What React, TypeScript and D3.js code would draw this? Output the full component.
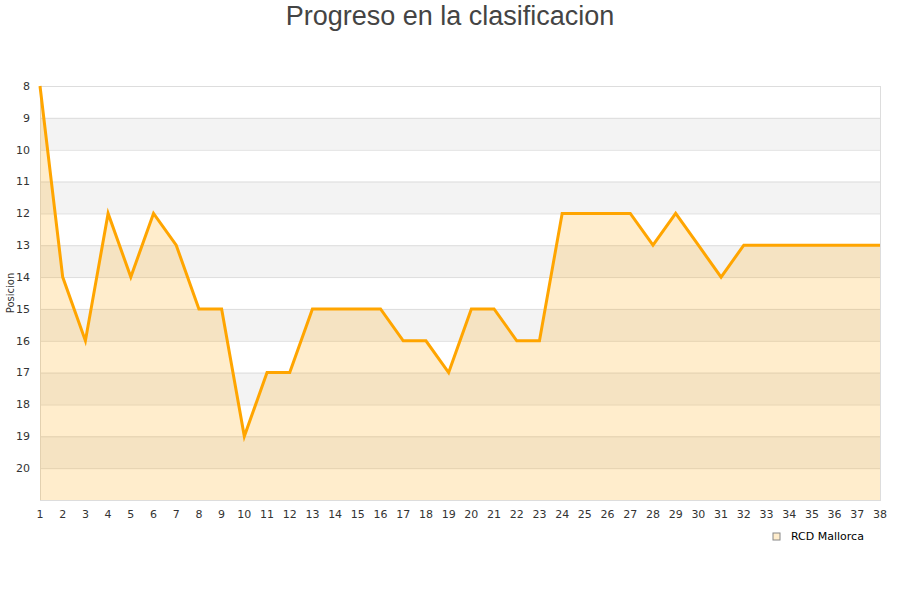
import React, { useEffect, useRef } from "react";
import * as d3 from "d3";

// jornadas and league position of RCD Mallorca
const jornadas = d3.range(1, 39);
const posiciones = [
  8, 14, 16, 12, 14, 12, 13, 15, 15, 19, 17, 17, 15, 15, 15, 15, 16, 16, 17,
  15, 15, 16, 16, 12, 12, 12, 12, 13, 12, 13, 14, 13, 13, 13, 13, 13, 13, 13,
];
const yTicks = d3.range(8, 21);
const seriesName = "RCD Mallorca";

const width = 900;
const height = 600;
const margin = { top: 86, right: 20, bottom: 100, left: 40 };

function Chart() {
  const ref = useRef<SVGSVGElement>(null);

  useEffect(() => {
    const svg = d3.select(ref.current);
    svg.selectAll("*").remove();

    const x = d3
      .scaleLinear()
      .domain([1, 38])
      .range([margin.left, width - margin.right]);
    const y = d3
      .scaleLinear()
      .domain([8, 21])
      .range([margin.top, height - margin.bottom]);

    const font = "DejaVu Sans, sans-serif";

    // alternating bands
    svg
      .append("g")
      .selectAll("rect")
      .data(d3.range(8, 21))
      .enter()
      .append("rect")
      .attr("x", margin.left)
      .attr("width", width - margin.right - margin.left)
      .attr("y", (d) => y(d))
      .attr("height", (d) => y(d + 1) - y(d))
      .attr("fill", (d) => (d % 2 === 0 ? "#ffffff" : "#f3f3f3"));

    // grid lines
    svg
      .append("g")
      .selectAll("line")
      .data(d3.range(8, 22))
      .enter()
      .append("line")
      .attr("x1", margin.left)
      .attr("x2", width - margin.right)
      .attr("y1", (d) => y(d) + 0.5)
      .attr("y2", (d) => y(d) + 0.5)
      .attr("stroke", "#dddddd");

    // frame
    svg
      .append("rect")
      .attr("x", margin.left + 0.5)
      .attr("y", margin.top + 0.5)
      .attr("width", width - margin.right - margin.left)
      .attr("height", height - margin.bottom - margin.top)
      .attr("fill", "none")
      .attr("stroke", "#dddddd");

    const data = jornadas.map((j, i) => ({ j, p: posiciones[i] }));

    const area = d3
      .area<{ j: number; p: number }>()
      .x((d) => x(d.j))
      .y0(y(21))
      .y1((d) => y(d.p));

    const line = d3
      .line<{ j: number; p: number }>()
      .x((d) => x(d.j))
      .y((d) => y(d.p));

    svg
      .append("path")
      .datum(data)
      .attr("d", area)
      .attr("fill", "#ffa500")
      .attr("fill-opacity", 0.2);

    svg
      .append("path")
      .datum(data)
      .attr("d", line)
      .attr("fill", "none")
      .attr("stroke", "#ffa500")
      .attr("stroke-width", 3)
      .attr("stroke-linejoin", "miter");

    // y tick labels
    svg
      .append("g")
      .selectAll("text")
      .data(yTicks)
      .enter()
      .append("text")
      .attr("x", margin.left - 10)
      .attr("y", (d) => y(d))
      .attr("dy", "0.35em")
      .attr("text-anchor", "end")
      .attr("font-family", font)
      .attr("font-size", 11)
      .attr("fill", "#333")
      .text((d) => d);

    // x tick labels
    svg
      .append("g")
      .selectAll("text")
      .data(jornadas)
      .enter()
      .append("text")
      .attr("x", (d) => x(d))
      .attr("y", height - margin.bottom + 18)
      .attr("text-anchor", "middle")
      .attr("font-family", font)
      .attr("font-size", 11)
      .attr("fill", "#333")
      .text((d) => d);

    // y axis title
    svg
      .append("text")
      .attr("transform", `translate(14,${(margin.top + height - margin.bottom) / 2}) rotate(-90)`)
      .attr("text-anchor", "middle")
      .attr("font-family", font)
      .attr("font-size", 10)
      .attr("fill", "#333")
      .text("Posicion");

    // title
    svg
      .append("text")
      .attr("x", width / 2)
      .attr("y", 25)
      .attr("text-anchor", "middle")
      .attr("font-family", "Liberation Sans, Arial, sans-serif")
      .attr("font-size", 27)
      .attr("fill", "#444")
      .text("Progreso en la clasificacion");

    // legend
    const lg = svg.append("g").attr("transform", "translate(773,533)");
    lg.append("rect")
      .attr("width", 7)
      .attr("height", 7)
      .attr("fill", "#ffedcc")
      .attr("stroke", "#888");
    lg.append("text")
      .attr("x", 18)
      .attr("y", 7)
      .attr("font-family", font)
      .attr("font-size", 11)
      .attr("fill", "#000")
      .text(seriesName);
  }, []);

  return (
    <svg
      ref={ref}
      width={width}
      height={height}
      style={{ display: "block", position: "absolute", left: 0, top: 0 }}
    />
  );
}

export default function App() {
  return <Chart />;
}
